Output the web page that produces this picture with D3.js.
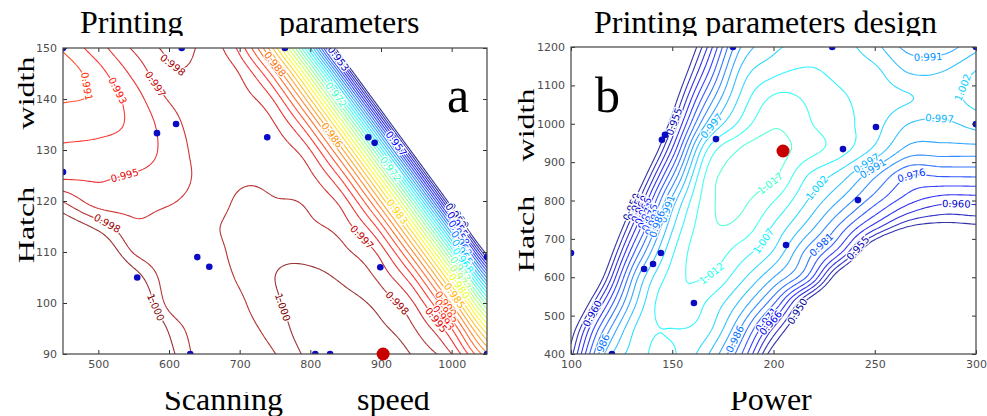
<!DOCTYPE html>
<html>
<head>
<meta charset="utf-8">
<script src="https://cdn.jsdelivr.net/npm/d3@7"></script>
<style>
  body { margin: 0; background: #fff; }
  svg { display: block; }
</style>
</head>
<body>
<svg id="chart" width="987" height="416"></svg>
<script>
// ---- axis ticks
const speedTicks = [500, 600, 700, 800, 900, 1000];
const hatchTicksA = [90, 100, 110, 120, 130, 140, 150];
const powerTicks = [100, 150, 200, 250, 300];
const hatchTicksB = [400, 500, 600, 700, 800, 900, 1000, 1100, 1200];

// ---- grid nodes (columns left to right, rows top to bottom)
const speedNodes = [450, 500, 550, 600, 650, 700, 750, 800, 850, 900, 950, 1000, 1050];
const hatchNodesA = [150, 145, 140, 135, 130, 125, 120, 115, 110, 105, 100, 95, 90];
const powerNodes = [100, 116.67, 133.33, 150, 166.67, 183.33, 200, 216.67, 233.33, 250, 266.67, 283.33, 300];
const hatchNodesB = [1200, 1133.3, 1066.7, 1000, 933.3, 866.7, 800, 733.3, 666.7, 600, 533.3, 466.7, 400];

// ---- panel a: response read at the grid nodes (scanning speed x hatch width)
const gridA = [
  [0.9919, 0.9943, 0.9969, 0.9986, 0.9979, 0.9944, 0.9842, 0.9668, 0.9420, 0.9098, 0.8702, 0.8231, 0.7687],
  [0.9905, 0.9927, 0.9954, 0.9980, 0.9979, 0.9966, 0.9905, 0.9770, 0.9561, 0.9278, 0.8921, 0.8489, 0.7984],
  [0.9915, 0.9920, 0.9942, 0.9968, 0.9977, 0.9974, 0.9946, 0.9850, 0.9680, 0.9437, 0.9119, 0.8727, 0.8260],
  [0.9926, 0.9928, 0.9937, 0.9959, 0.9977, 0.9977, 0.9967, 0.9910, 0.9779, 0.9575, 0.9296, 0.8943, 0.8516],
  [0.9936, 0.9938, 0.9942, 0.9955, 0.9975, 0.9978, 0.9976, 0.9950, 0.9858, 0.9692, 0.9453, 0.9139, 0.8751],
  [0.9946, 0.9948, 0.9951, 0.9957, 0.9972, 0.9981, 0.9980, 0.9970, 0.9916, 0.9789, 0.9589, 0.9314, 0.8965],
  [0.9982, 0.9958, 0.9961, 0.9965, 0.9974, 0.9985, 0.9984, 0.9980, 0.9954, 0.9865, 0.9704, 0.9468, 0.9159],
  [1.0020, 0.9994, 0.9970, 0.9974, 0.9980, 0.9987, 0.9990, 0.9986, 0.9973, 0.9922, 0.9798, 0.9602, 0.9332],
  [1.0057, 1.0029, 0.9982, 0.9975, 0.9978, 0.9987, 0.9996, 0.9995, 0.9986, 0.9959, 0.9873, 0.9715, 0.9484],
  [1.0095, 1.0063, 1.0012, 0.9975, 0.9977, 0.9985, 1.0000, 1.0004, 0.9996, 0.9978, 0.9928, 0.9808, 0.9615],
  [1.0133, 1.0095, 1.0039, 0.9978, 0.9976, 0.9981, 0.9997, 1.0012, 1.0007, 0.9993, 0.9963, 0.9880, 0.9726],
  [1.0170, 1.0124, 1.0062, 0.9997, 0.9975, 0.9978, 0.9990, 1.0013, 1.0018, 1.0004, 0.9982, 0.9933, 0.9817],
  [1.0208, 1.0141, 1.0075, 1.0008, 0.9975, 0.9976, 0.9983, 1.0006, 1.0024, 1.0016, 0.9996, 0.9967, 0.9887]
];

// ---- panel b: response read at the grid nodes (power x hatch width)
const gridB = [
  [0.830, 0.862, 0.894, 0.926, 0.959, 0.9908, 1.0002, 1.0042, 1.0038, 0.9983, 0.9896, 0.9888, 0.995],
  [0.840, 0.872, 0.903, 0.935, 0.9685, 0.9975, 1.0057, 1.0078, 1.0055, 1.0032, 0.9965, 0.9968, 1.0022],
  [0.836, 0.872, 0.908, 0.944, 0.9797, 1.0025, 1.0130, 1.0115, 1.0078, 1.0045, 1.0022, 1.0000, 1.0035],
  [0.840, 0.878, 0.916, 0.954, 0.9915, 1.0082, 1.0166, 1.0128, 1.0088, 1.0039, 0.9966, 0.9955, 0.9985],
  [0.848, 0.887, 0.9266, 0.966, 1.0060, 1.0175, 1.0195, 1.0145, 1.0092, 1.0006, 0.9898, 0.9893, 0.9893],
  [0.862, 0.9016, 0.9407, 0.980, 1.0128, 1.0188, 1.0183, 1.0072, 0.9995, 0.9875, 0.9765, 0.9768, 0.977],
  [0.8777, 0.9162, 0.9547, 0.9932, 1.0148, 1.0182, 1.0125, 1.0019, 0.9907, 0.9781, 0.9675, 0.9625, 0.9625],
  [0.889, 0.928, 0.9673, 1.0006, 1.0155, 1.0160, 1.0065, 0.9949, 0.9796, 0.9636, 0.9505, 0.947, 0.9485],
  [0.8995, 0.9397, 0.9799, 1.0060, 1.0152, 1.0098, 1.0013, 0.9845, 0.9666, 0.938, 0.920, 0.915, 0.918],
  [0.910, 0.9518, 0.9918, 1.0095, 1.0122, 1.0038, 0.9915, 0.9751, 0.942, 0.922, 0.908, 0.902, 0.905],
  [0.9285, 0.9673, 0.998, 1.0115, 1.0068, 0.9958, 0.9769, 0.947, 0.925, 0.910, 0.899, 0.894, 0.896],
  [0.9446, 0.9815, 1.0035, 1.0070, 1.0040, 0.9867, 0.9597, 0.935, 0.915, 0.900, 0.890, 0.886, 0.888],
  [0.953, 0.9918, 1.0052, 1.0075, 0.9979, 0.9776, 0.945, 0.925, 0.907, 0.893, 0.883, 0.878, 0.880]
];

// ---- contour levels
const levelsA = [0.95000, 0.95167, 0.95333, 0.95500, 0.95667, 0.95833, 0.96000, 0.96167, 0.96333, 0.96500,
  0.96667, 0.96833, 0.97000, 0.97167, 0.97333, 0.97500, 0.97667, 0.97833, 0.98000, 0.98167,
  0.98333, 0.98500, 0.98667, 0.98833, 0.99000, 0.99167, 0.99333, 0.99500, 0.99667, 0.99833, 1.00000];
const levelsB = [0.9500, 0.9552, 0.9604, 0.9655, 0.9707, 0.9759, 0.9811, 0.9863, 0.9914, 0.9966,
  1.0018, 1.0070, 1.0122, 1.0173];

// ---- experiment points and optimum
const pointsA = [[450, 150], [618, 150], [583, 133.3], [610, 135.1], [450, 125.7], [739, 132.5], [882, 132.5],
  [891, 131.4], [764, 150], [555, 105], [640, 109], [657, 107.1], [630, 90], [899, 107], [807, 90], [828, 90],
  [1050, 109], [1050, 90]];
const optimumA = [903, 90];
const pointsB = [[180, 1200], [229, 1200], [300, 1200], [144.9, 958], [146.4, 971], [171.6, 960], [250.6, 991.5],
  [300, 999], [234.3, 934], [241.7, 801], [206.2, 684], [144.4, 663], [140.5, 634.5], [136.1, 621.5],
  [100, 663], [160.7, 533], [120.2, 400]];
const optimumB = [204.7, 929];

// ---- inline contour labels: text, x, y, level index
const labelsA = [["0.991", 474, 142.2, 25], ["0.993", 506.6, 140.4, 26], ["0.997", 570.3, 142, 28],
  ["0.998", 604, 146.3, 29], ["0.995", 540.6, 122.5, 27], ["0.998", 506.6, 113.9, 29], ["1.000", 573, 98.6, 30],
  ["1.000", 761.3, 99.2, 30], ["0.997", 851.9, 110.4, 28], ["0.998", 915.5, 99.2, 29], ["0.988", 740, 145.7, 23],
  ["0.986", 810.8, 130.6, 22], ["0.983", 898.6, 115.7, 20], ["0.972", 832, 140.4, 13], ["0.972", 908.5, 125.5, 13],
  ["0.953", 842, 148.2, 2], ["0.957", 917, 130.6, 4], ["0.950", 1002, 116.3, 0],
  ["0.952", 1005, 117, 1], ["0.955", 1005, 115, 3], ["0.958", 1005, 113, 5], ["0.962", 1005, 111, 7],
  ["0.965", 1005, 109, 9], ["0.968", 1005, 107.5, 11], ["0.973", 1005, 106, 14], ["0.977", 1005, 104.5, 16],
  ["0.980", 1005, 103, 18], ["0.985", 1005, 101.5, 21], ["0.990", 975, 98, 24], ["0.992", 980, 97, 25],
  ["0.993", 985, 96.5, 26], ["0.995", 970, 96, 27]];
const labelsB = [["0.955", 151.4, 1002, 1], ["0.997", 170.1, 989, 9], ["0.950", 131.6, 780, 0], ["0.991", 147.4, 780, 8],
  ["0.960", 109.4, 509.5, 2], ["0.986", 111.9, 423, 7], ["1.012", 170.1, 606, 12], ["1.017", 198.3, 845.6, 13],
  ["1.007", 194.8, 692, 11], ["1.002", 221.5, 832.6, 10], ["0.997", 244.2, 910.7, 9], ["0.991", 249.1, 887, 8],
  ["0.976", 268.9, 858.6, 5], ["0.960", 290.6, 783, 2], ["0.981", 223, 691.9, 6], ["0.955", 241.2, 676, 1],
  ["0.971", 194.8, 493.8, 4], ["0.966", 198.3, 483.4, 3], ["0.950", 208.1, 520, 0], ["0.986", 177, 449.5, 7],
  ["0.991", 275.8, 1179, 8], ["0.997", 282.2, 1041, 9], ["1.002", 294.6, 1093, 10],
  ["0.955", 139, 770, 1], ["0.960", 139.5, 765, 2], ["0.966", 140, 760, 3], ["0.971", 140.5, 755, 4],
  ["0.976", 141, 750, 5], ["0.981", 141.5, 745, 6], ["0.986", 142, 740, 7]];

// ---- jet colour map
function jet(t) {
  const c = v => Math.max(0, Math.min(1, v)) * 255;
  return d3.rgb(c(1.5 - Math.abs(4 * t - 3)), c(1.5 - Math.abs(4 * t - 2)), c(1.5 - Math.abs(4 * t - 1))).formatHex();
}

// smooth the node grid (Catmull-Rom) so marching squares gives round lines
function upsample(grid, F) {
  const ny = grid.length, nx = grid[0].length;
  const NX = (nx - 1) * F + 1, NY = (ny - 1) * F + 1;
  const cr = (p0, p1, p2, p3, t) => 0.5 * (2 * p1 + (p2 - p0) * t + (2 * p0 - 5 * p1 + 4 * p2 - p3) * t * t + (3 * p1 - p0 - 3 * p2 + p3) * t * t * t);
  const at = (a, i) => i < 0 ? 2 * a[0] - a[1] : i >= a.length ? 2 * a[a.length - 1] - a[a.length - 2] : a[i];
  const interp = (a, N) => {
    const out = new Array(N);
    for (let k = 0; k < N; k++) {
      const s = k / F, i = Math.min(Math.floor(s), a.length - 2), t = s - i;
      out[k] = cr(at(a, i - 1), at(a, i), at(a, i + 1), at(a, i + 2), t);
    }
    return out;
  };
  const rows = grid.map(r => interp(r, NX));
  const values = new Float64Array(NX * NY);
  for (let c = 0; c < NX; c++) {
    const col = interp(rows.map(r => r[c]), NY);
    for (let r = 0; r < NY; r++) values[r * NX + c] = col[r];
  }
  return { values, NX, NY };
}

const svg = d3.select("#chart");
const defs = svg.append("defs");

const panels = [
  {
    id: "a", x: d3.scaleLinear().domain([450, 1050]).range([63, 487]),
    y: d3.scaleLinear().domain([90, 150]).range([354, 48]),
    xTicks: speedTicks, yTicks: hatchTicksA, xNodes: speedNodes, yNodes: hatchNodesA,
    grid: gridA, levels: levelsA, color: i => jet(i / 30), points: pointsA, optimum: optimumA, labels: labelsA
  },
  {
    id: "b", x: d3.scaleLinear().domain([100, 300]).range([571, 976]),
    y: d3.scaleLinear().domain([400, 1200]).range([354, 47]),
    xTicks: powerTicks, yTicks: hatchTicksB, xNodes: powerNodes, yNodes: hatchNodesB,
    grid: gridB, levels: levelsB, color: i => jet(0.02 + i * 0.031), points: pointsB, optimum: optimumB, labels: labelsB
  }
];

panels.forEach(p => {
  const [X0, X1] = p.x.range(), [Y1, Y0] = p.y.range();
  defs.append("clipPath").attr("id", "clip-" + p.id)
    .append("rect").attr("x", X0).attr("y", Y0).attr("width", X1 - X0).attr("height", Y1 - Y0);
  const g = svg.append("g");
  const plot = g.append("g").attr("clip-path", `url(#clip-${p.id})`);

  const F = 12;
  const field = upsample(p.grid, F);
  const xa = p.xNodes[0], xb = p.xNodes[p.xNodes.length - 1];
  const ya = p.yNodes[0], yb = p.yNodes[p.yNodes.length - 1];
  const gx = v => p.x(xa + (v - 0.5) * (xb - xa) / (field.NX - 1));
  const gy = v => p.y(ya + (v - 0.5) * (yb - ya) / (field.NY - 1));
  const path = d3.geoPath(d3.geoTransform({ point(a, b) { this.stream.point(gx(a), gy(b)); } }));
  const contours = d3.contours().size([field.NX, field.NY]).thresholds(p.levels)(field.values);

  plot.selectAll("path.iso").data(contours).join("path")
    .attr("class", "iso")
    .attr("d", path)
    .attr("fill", "none")
    .attr("stroke", (d, i) => p.color(i))
    .attr("stroke-opacity", 0.8)
    .attr("stroke-width", 1.1);

  // labels sit on the nearest point of their line
  p.labels.forEach(([text, lx, ly, k]) => {
    const ax = p.x(lx), ay = p.y(ly);
    let best = null, bd = Infinity;
    contours[k].coordinates.forEach(poly => poly.forEach(ring => {
      const pts = ring.map(q => [gx(q[0]), gy(q[1])]);
      pts.forEach((q, i) => {
        if (q[0] < X0 + 2 || q[0] > X1 - 2 || q[1] < Y0 + 2 || q[1] > Y1 - 2) return;
        const d = (q[0] - ax) ** 2 + (q[1] - ay) ** 2;
        if (d < bd) { bd = d; best = { pts, i }; }
      });
    }));
    if (!best) return;
    const { pts, i } = best, n = pts.length;
    const a = pts[(i - 3 + n) % n], b = pts[(i + 3) % n];
    let ang = Math.atan2(b[1] - a[1], b[0] - a[0]) * 180 / Math.PI;
    if (ang > 90) ang -= 180;
    if (ang < -90) ang += 180;
    plot.append("text")
      .attr("transform", `translate(${pts[i][0]},${pts[i][1]}) rotate(${ang})`)
      .attr("text-anchor", "middle")
      .attr("dy", "0.35em")
      .attr("font-family", "DejaVu Sans")
      .attr("font-size", 10)
      .attr("fill", p.color(k))
      .attr("stroke", "#fff")
      .attr("stroke-width", 2.5)
      .attr("paint-order", "stroke")
      .text(text);
  });

  plot.selectAll("circle.pt").data(p.points).join("circle")
    .attr("class", "pt")
    .attr("cx", d => p.x(d[0])).attr("cy", d => p.y(d[1]))
    .attr("r", 3.3).attr("fill", "#0b0bc4");

  // frame and inward ticks
  const axes = [
    [d3.axisBottom(p.x).tickValues(p.xTicks), `translate(0,${Y1})`, true],
    [d3.axisTop(p.x).tickValues(p.xTicks), `translate(0,${Y0})`, false],
    [d3.axisLeft(p.y).tickValues(p.yTicks), `translate(${X0},0)`, true],
    [d3.axisRight(p.y).tickValues(p.yTicks), `translate(${X1},0)`, false]
  ];
  axes.forEach(([ax, tr, showText]) => {
    ax.tickSizeInner(-4).tickSizeOuter(0).tickPadding(6).tickFormat(showText ? d3.format("d") : "");
    const ag = g.append("g").attr("transform", tr).call(ax);
    ag.select(".domain").remove();
    ag.selectAll("line").attr("stroke", "#333");
    ag.selectAll("text").attr("font-family", "DejaVu Sans").attr("font-size", 11).attr("fill", "#4d4d4d");
  });
  g.append("rect").attr("x", X0).attr("y", Y0).attr("width", X1 - X0).attr("height", Y1 - Y0)
    .attr("fill", "none").attr("stroke", "#444").attr("stroke-width", 1.2);

  g.append("circle")
    .attr("cx", p.x(p.optimum[0])).attr("cy", p.y(p.optimum[1]))
    .attr("r", 6.5).attr("fill", "#c80000");
});

// ---- titles, axis names, panel letters
const serif = "Liberation Serif, Times New Roman, serif";
defs.append("clipPath").attr("id", "clip-top").append("rect").attr("x", 0).attr("y", 0).attr("width", 987).attr("height", 36);
defs.append("clipPath").attr("id", "clip-bottom").append("rect").attr("x", 0).attr("y", 392).attr("width", 987).attr("height", 30);

const titleG = svg.append("g").attr("clip-path", "url(#clip-top)")
  .attr("font-family", serif).attr("font-size", 32).attr("fill", "#000");
titleG.append("text").attr("x", 80).attr("y", 33).text("Printing");
titleG.append("text").attr("x", 279).attr("y", 33).text("parameters");
titleG.append("text").attr("x", 594).attr("y", 33).text("Printing parameters design");

const xNameG = svg.append("g").attr("clip-path", "url(#clip-bottom)")
  .attr("font-family", serif).attr("font-size", 32).attr("fill", "#000");
xNameG.append("text").attr("x", 164).attr("y", 410).text("Scanning");
xNameG.append("text").attr("x", 357).attr("y", 410).text("speed");
xNameG.append("text").attr("x", 730).attr("y", 410).text("Power");

const side = [["width", 34, 93], ["Hatch", 34, 225], ["width", 534, 125], ["Hatch", 534, 234]];
svg.append("g").selectAll("text").data(side).join("text")
  .attr("transform", d => `translate(${d[1]},${d[2]}) rotate(-90) scale(1,0.74)`)
  .attr("text-anchor", "middle")
  .attr("font-family", serif).attr("font-size", 32).attr("fill", "#000")
  .text(d => d[0]);

svg.append("text").attr("x", 447).attr("y", 112).attr("font-family", serif).attr("font-size", 50).text("a");
svg.append("text").attr("x", 595).attr("y", 112).attr("font-family", serif).attr("font-size", 50).text("b");
</script>
</body>
</html>
